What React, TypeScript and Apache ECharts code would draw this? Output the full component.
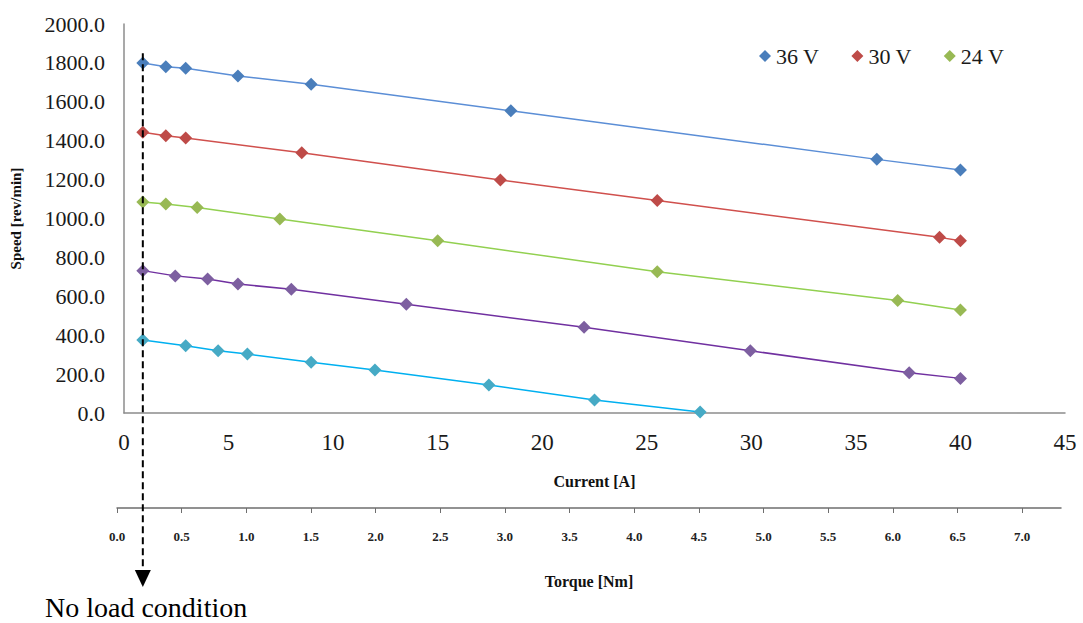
import React, { useEffect, useRef } from "react";
import * as echarts from "echarts";

// ---- data ----
const current36 = [0.9, 2.0, 2.95, 5.45, 8.95, 18.5, 36.0, 40.0];
const speed36 = [1800, 1780, 1772, 1733, 1690, 1554, 1304, 1249];

const current30 = [0.9, 2.0, 2.95, 8.5, 18.0, 25.5, 39.0, 40.0];
const speed30 = [1443, 1426, 1414, 1338, 1198, 1092, 903, 886];

const current24 = [0.9, 2.0, 3.5, 7.45, 15.0, 25.5, 37.0, 40.0];
const speed24 = [1085, 1075, 1057, 997, 886, 726, 579, 530];

const current18 = [0.9, 2.45, 4.0, 5.45, 8.0, 13.5, 22.0, 29.95, 37.55, 40.0];
const speed18 = [732, 705, 689, 663, 636, 559, 441, 320, 207, 178];

const current12 = [0.9, 2.95, 4.5, 5.9, 8.95, 12.0, 17.45, 22.5, 27.55];
const speed12 = [375, 346, 320, 303, 261, 221, 144, 67, 5];

const seriesNames = ["36 V", "30 V", "24 V", "18 V", "12 V"];
const legendNames = ["36 V", "30 V", "24 V"];
const torqueTicks = [0, 0.5, 1, 1.5, 2, 2.5, 3, 3.5, 4, 4.5, 5, 5.5, 6, 6.5, 7];
const noLoadCurrent = 0.9;
const noLoadTopSpeed = 1850;
const noLoadLabel = "No load condition";

const markerColors = ["#4A7EBB", "#BE4B48", "#98B954", "#7D5FA0", "#46AAC5"];
const lineColors = ["#5B8ED6", "#D0504D", "#92D050", "#7030A0", "#00B0F0"];

const SERIF = "Liberation Serif";

function zip(xs: number[], ys: number[]) {
  return xs.map((x, i) => [x, ys[i]]);
}

export default function App() {
  const ref = useRef<HTMLDivElement>(null);

  useEffect(() => {
    if (!ref.current) return;
    const chart = echarts.init(ref.current, null, { renderer: "svg" });
    const xs = [current36, current30, current24, current18, current12];
    const ys = [speed36, speed30, speed24, speed18, speed12];

    chart.setOption({
      animation: false,
      backgroundColor: "#ffffff",
      textStyle: { fontFamily: SERIF },
      legend: {
        data: legendNames,
        left: 754,
        top: 40,
        icon: "diamond",
        itemWidth: 12,
        itemHeight: 12,
        itemGap: 32,
        textStyle: { fontFamily: SERIF, fontSize: 22, color: "#1a1a1a" },
      },
      grid: [
        { left: 118, top: 24, width: 947, height: 389, containLabel: false },
        { left: 117, top: 507, width: 944, height: 1, containLabel: false },
      ],
      xAxis: [
        {
          type: "value",
          gridIndex: 0,
          min: 0,
          max: 45,
          interval: 5,
          name: "Current [A]",
          nameLocation: "middle",
          nameGap: 60,
          nameTextStyle: { fontFamily: SERIF, fontSize: 16, fontWeight: "bold", color: "#111" },
          axisLine: { lineStyle: { color: "#8c8c8c", width: 1.5 } },
          axisTick: { show: false },
          splitLine: { show: false },
          axisLabel: { fontFamily: SERIF, fontSize: 23, color: "#1a1a1a", margin: 18 },
        },
        {
          type: "value",
          gridIndex: 1,
          min: 0,
          max: 7.3,
          name: "Torque [Nm]",
          nameLocation: "middle",
          nameGap: 65,
          nameTextStyle: { fontFamily: SERIF, fontSize: 16, fontWeight: "bold", color: "#111" },
          axisLine: { lineStyle: { color: "#6e6e6e", width: 1.5 } },
          axisTick: { show: true, length: 5, customValues: torqueTicks, lineStyle: { color: "#6e6e6e" } },
          splitLine: { show: false },
          axisLabel: {
            customValues: torqueTicks,
            fontFamily: SERIF,
            fontSize: 13,
            fontWeight: "bold",
            color: "#222",
            margin: 22,
            formatter: (v: number) => v.toFixed(1),
          },
        },
      ],
      yAxis: [
        {
          type: "value",
          gridIndex: 0,
          min: 0,
          max: 2000,
          interval: 200,
          name: "Speed [rev/min]",
          nameLocation: "middle",
          nameGap: 101,
          nameTextStyle: { fontFamily: SERIF, fontSize: 15, fontWeight: "bold", color: "#111" },
          axisLine: { show: true, lineStyle: { color: "#8c8c8c", width: 1.5 } },
          axisTick: { show: false },
          splitLine: { show: false },
          axisLabel: {
            fontFamily: SERIF,
            fontSize: 22,
            color: "#1a1a1a",
            margin: 19,
            formatter: (v: number) => v.toFixed(1),
          },
        },
        {
          type: "value",
          gridIndex: 1,
          show: false,
        },
      ],
      series: seriesNames.map((name, i) => ({
        name,
        type: "line",
        xAxisIndex: 0,
        yAxisIndex: 0,
        data: zip(xs[i], ys[i]),
        symbol: "diamond",
        symbolSize: 13,
        itemStyle: { color: markerColors[i] },
        lineStyle: { color: lineColors[i], width: 1.5 },
        z: 3,
      })),
    });

    const [px, pyTop] = chart.convertToPixel({ xAxisIndex: 0, yAxisIndex: 0 }, [noLoadCurrent, noLoadTopSpeed]) as number[];
    const arrowTip = 587;
    const arrowTop = 570;
    chart.setOption({
      graphic: [
        {
          type: "line",
          shape: { x1: px, y1: pyTop, x2: px, y2: arrowTop },
          style: { stroke: "#000", lineWidth: 2, lineDash: [7, 4] },
          z: 10,
        },
        {
          type: "polygon",
          shape: { points: [[px - 8, arrowTop], [px + 8, arrowTop], [px, arrowTip]] },
          style: { fill: "#000" },
          z: 10,
        },
        {
          type: "text",
          left: 45,
          top: 593,
          style: { text: noLoadLabel, fontFamily: SERIF, fontSize: 28, fill: "#000" },
          z: 10,
        },
      ],
    });

    return () => chart.dispose();
  }, []);

  return (
    <div
      ref={ref}
      style={{ position: "fixed", left: 0, top: 0, width: 1083, height: 623, background: "#fff" }}
    />
  );
}
